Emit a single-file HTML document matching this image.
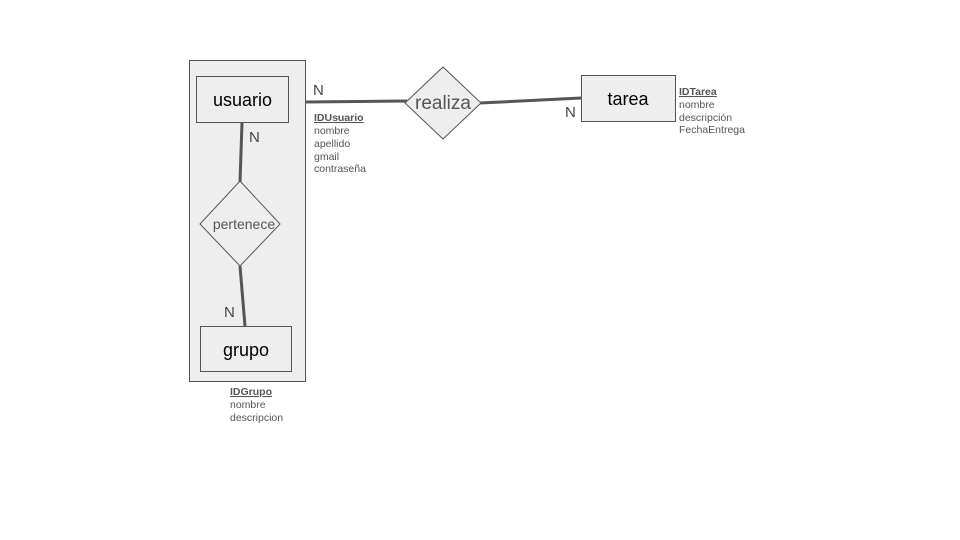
<!DOCTYPE html>
<html><head><meta charset="utf-8"><style>
html,body{margin:0;padding:0;background:#fff;}
svg{display:block;font-family:"Liberation Sans",Arial,sans-serif;}
</style></head><body>
<svg width="960" height="540" viewBox="0 0 960 540">
<rect x="189.5" y="60.5" width="116" height="321" fill="#eeeeee" stroke="#555" stroke-width="1"/>
<rect x="196.5" y="76.5" width="92" height="46" fill="#eeeeee" stroke="#555"/>
<text x="242.5" y="106" font-size="18" text-anchor="middle" fill="#000">usuario</text>
<rect x="200.5" y="326.5" width="91" height="45" fill="#eeeeee" stroke="#555"/>
<text x="246" y="356" font-size="18" text-anchor="middle" fill="#000">grupo</text>
<rect x="581.5" y="75.5" width="94" height="46" fill="#eeeeee" stroke="#555"/>
<text x="628" y="105" font-size="18" text-anchor="middle" fill="#000">tarea</text>
<line x1="242" y1="123" x2="240" y2="182" stroke="#555" stroke-width="3"/>
<line x1="240" y1="266" x2="245" y2="326" stroke="#555" stroke-width="3"/>
<line x1="306" y1="102" x2="407" y2="101" stroke="#555" stroke-width="3"/>
<line x1="480" y1="103" x2="581" y2="98" stroke="#555" stroke-width="3"/>
<polygon points="240,181 280,224 240,266 200,224" fill="#eeeeee" stroke="#555"/>
<text x="244" y="229" font-size="14" text-anchor="middle" fill="#555">pertenece</text>
<polygon points="443,67 481,103 443,139 405,103" fill="#eeeeee" stroke="#555"/>
<text x="443" y="109" font-size="19" text-anchor="middle" fill="#555">realiza</text>
<g font-size="15" fill="#444">
<text x="313" y="95">N</text>
<text x="249" y="142">N</text>
<text x="224" y="317">N</text>
<text x="565" y="117">N</text>
</g>
<g font-size="10.5" fill="#555">
<text x="314" y="121" font-weight="bold" text-decoration="underline">IDUsuario</text>
<text x="314" y="134">nombre</text>
<text x="314" y="147">apellido</text>
<text x="314" y="160">gmail</text>
<text x="314" y="172">contraseña</text>
<text x="679" y="95" font-weight="bold" text-decoration="underline">IDTarea</text>
<text x="679" y="108">nombre</text>
<text x="679" y="121">descripción</text>
<text x="679" y="133">FechaEntrega</text>
<text x="230" y="395" font-weight="bold" text-decoration="underline">IDGrupo</text>
<text x="230" y="408">nombre</text>
<text x="230" y="421">descripcion</text>
</g>
</svg>
</body></html>
